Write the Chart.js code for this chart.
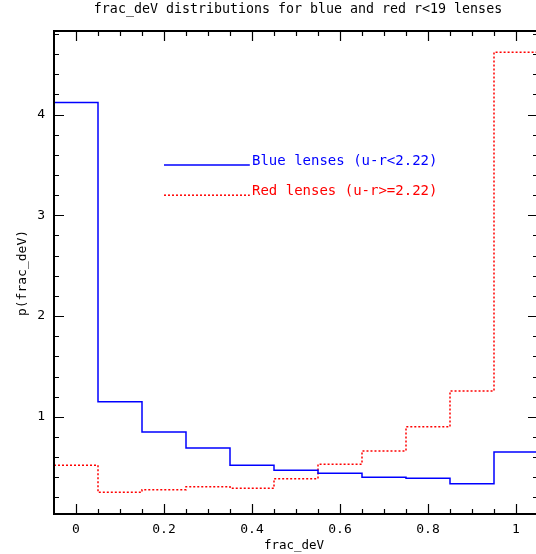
<!DOCTYPE html>
<html>
<head>
<meta charset="utf-8">
<script src="https://cdn.jsdelivr.net/npm/chart.js@4"></script>
<style>
  html, body { margin: 0; padding: 0; background: #fff; overflow: hidden; }
  canvas { display: block; }
</style>
</head>
<body>
<canvas id="myChart" width="540" height="554"></canvas>
<script>
// histogram bin edges (frac_deV) and p(frac_deV) per bin
const binEdges = [-0.05, 0.05, 0.15, 0.25, 0.35, 0.45, 0.55, 0.65, 0.75, 0.85, 0.95, 1.05];
const blueValues = [4.12, 1.15, 0.85, 0.69, 0.52, 0.47, 0.44, 0.40, 0.39, 0.335, 0.65];
const redValues = [0.52, 0.25, 0.275, 0.305, 0.29, 0.385, 0.53, 0.66, 0.90, 1.255, 4.62];

const xTickLabels = [0, 0.2, 0.4, 0.6, 0.8, 1];
const yTickLabels = [1, 2, 3, 4];

const titleText = 'frac_deV distributions for blue and red r<19 lenses';
const xTitle = 'frac_deV';
const yTitle = 'p(frac_deV)';
const blueLabel = 'Blue lenses (u-r<2.22)';
const redLabel = 'Red lenses (u-r>=2.22)';

const FONT = '"DejaVu Sans Mono", monospace';

function stepPoints(values) {
    let pts = [];
    for (let i = 0; i < values.length; i++) {
        pts.push({x: binEdges[i], y: values[i]});
    }
    pts.push({x: binEdges[binEdges.length - 1], y: values[values.length - 1]});
    return pts;
}

// minor tick positions
let xMinor = [];
for (let i = 1; i <= 21; i++) xMinor.push(-0.05 + i * 0.05);
let yMinor = [];
for (let i = 1; i <= 24; i++) yMinor.push(i * 0.2);

const framePlugin = {
    id: 'frame',
    afterDraw(chart) {
        const ctx = chart.ctx;
        const a = chart.chartArea;
        const xs = chart.scales.x;
        const ys = chart.scales.y;
        ctx.save();
        ctx.strokeStyle = '#000';

        // ticks
        ctx.lineWidth = 1.2;
        ctx.beginPath();
        xMinor.forEach(v => {
            const p = Math.round(xs.getPixelForValue(v)) + 0.5;
            const major = xTickLabels.some(t => Math.abs(t - v) < 1e-6);
            const len = major ? 10 : 5;
            ctx.moveTo(p, a.bottom); ctx.lineTo(p, a.bottom - len);
            ctx.moveTo(p, a.top); ctx.lineTo(p, a.top + len);
        });
        yMinor.forEach(v => {
            if (v > ys.max) return;
            const p = Math.round(ys.getPixelForValue(v)) + 0.5;
            const major = yTickLabels.some(t => Math.abs(t - v) < 1e-6);
            const len = major ? 10 : 5;
            ctx.moveTo(a.left, p); ctx.lineTo(a.left + len, p);
            ctx.moveTo(a.right, p); ctx.lineTo(a.right - len, p);
        });
        ctx.stroke();

        // frame
        ctx.lineWidth = 2;
        ctx.strokeRect(a.left, a.top, a.right - a.left, a.bottom - a.top);

        // titles
        ctx.fillStyle = '#000';
        ctx.font = '13.3px ' + FONT;
        ctx.textAlign = 'center';
        ctx.textBaseline = 'middle';
        ctx.fillText(titleText, 298, 10);
        ctx.font = '12.5px ' + FONT;
        ctx.fillText(xTitle, 294, 546);
        ctx.save();
        ctx.translate(23, 273);
        ctx.rotate(-Math.PI / 2);
        ctx.font = '13px ' + FONT;
        ctx.fillText(yTitle, 0, 0);
        ctx.restore();

        // legend
        const lx0 = xs.getPixelForValue(0.2);
        const lx1 = xs.getPixelForValue(0.395);
        const tx = xs.getPixelForValue(0.4);
        const by = ys.getPixelForValue(3.5);
        const ry = ys.getPixelForValue(3.2);
        ctx.lineWidth = 1.5;
        ctx.strokeStyle = '#0000ff';
        ctx.beginPath(); ctx.moveTo(lx0, by); ctx.lineTo(lx1, by); ctx.stroke();
        ctx.strokeStyle = '#ff0000';
        ctx.setLineDash([2, 2]);
        ctx.beginPath(); ctx.moveTo(lx0, ry); ctx.lineTo(lx1, ry); ctx.stroke();
        ctx.setLineDash([]);
        ctx.font = '14px ' + FONT;
        ctx.textAlign = 'left';
        ctx.textBaseline = 'alphabetic';
        ctx.fillStyle = '#0000ff';
        ctx.fillText(blueLabel, tx, by);
        ctx.fillStyle = '#ff0000';
        ctx.fillText(redLabel, tx, ry);
        ctx.restore();
    }
};

const ctx = document.getElementById('myChart');

const myChart = new Chart(ctx, {
    type: 'line',
    data: {
        datasets: [{
            label: 'Blue',
            data: stepPoints(blueValues),
            borderColor: '#0000ff',
            borderWidth: 1.5,
            stepped: 'before',
            pointRadius: 0,
            fill: false
        }, {
            label: 'Red',
            data: stepPoints(redValues),
            borderColor: '#ff0000',
            borderWidth: 1.5,
            borderDash: [2, 2],
            stepped: 'before',
            pointRadius: 0,
            fill: false
        }]
    },
    options: {
        responsive: false,
        animation: false,
        layout: {padding: {top: 31, right: 2, left: 0, bottom: 0}},
        plugins: {
            legend: {display: false},
            tooltip: {enabled: false}
        },
        scales: {
            x: {
                type: 'linear',
                min: -0.05,
                max: 1.05,
                afterBuildTicks: s => { s.ticks = xTickLabels.map(v => ({value: v})); },
                afterFit: s => { s.height = 40; },
                grid: {display: false, drawTicks: false},
                border: {display: false},
                ticks: {
                    color: '#000',
                    padding: 8,
                    maxRotation: 0,
                    font: {family: FONT, size: 13},
                    callback: v => String(v)
                }
            },
            y: {
                type: 'linear',
                min: 0.035,
                max: 4.83,
                afterBuildTicks: s => { s.ticks = yTickLabels.map(v => ({value: v})); },
                afterFit: s => { s.width = 54; },
                grid: {display: false, drawTicks: false},
                border: {display: false},
                ticks: {
                    color: '#000',
                    padding: 9,
                    font: {family: FONT, size: 13},
                    callback: v => String(v)
                }
            }
        }
    },
    plugins: [framePlugin]
});
</script>
</body>
</html>
